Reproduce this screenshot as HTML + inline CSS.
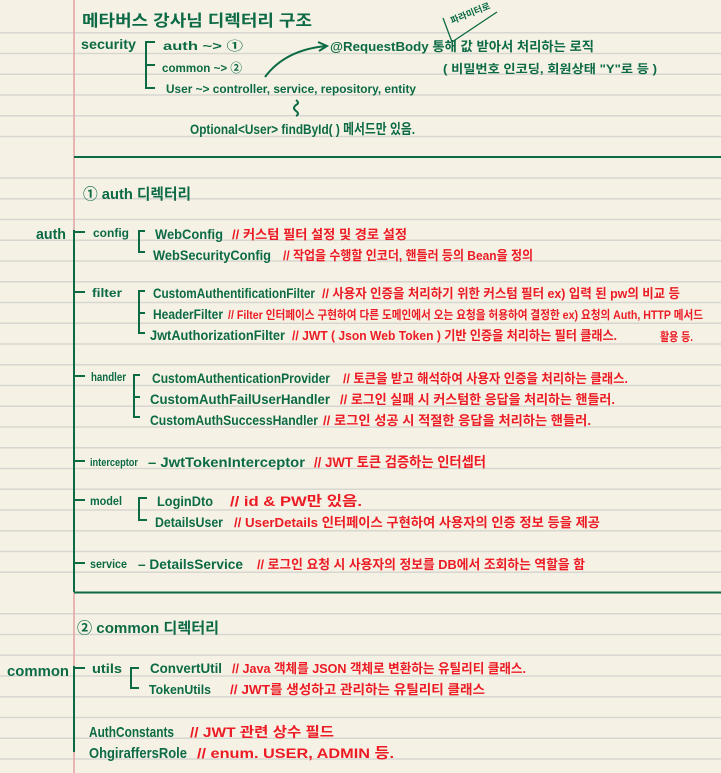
<!DOCTYPE html>
<html><head><meta charset="utf-8"><style>
html,body{margin:0;padding:0;background:#f5f2e5;}
svg{display:block}
text{font-family:"Liberation Sans","Noto Sans CJK KR","NanumGothic",sans-serif;font-weight:bold;}
.g{fill:#0c6a45}.r{fill:#ec1b24}
</style></head><body>
<svg width="721" height="773" viewBox="0 0 721 773" xmlns="http://www.w3.org/2000/svg">
<rect width="721" height="773" fill="#f5f2e5"/>
<g stroke="#d8d6d0" stroke-width="1.5">
<line x1="0" x2="721" y1="32.7" y2="32.7"/><line x1="0" x2="721" y1="53.5" y2="53.5"/><line x1="0" x2="721" y1="74.2" y2="74.2"/><line x1="0" x2="721" y1="95" y2="95"/><line x1="0" x2="721" y1="115.7" y2="115.7"/><line x1="0" x2="721" y1="136.5" y2="136.5"/><line x1="0" x2="721" y1="178" y2="178"/><line x1="0" x2="721" y1="198.7" y2="198.7"/><line x1="0" x2="721" y1="219.5" y2="219.5"/><line x1="0" x2="721" y1="240.2" y2="240.2"/><line x1="0" x2="721" y1="261" y2="261"/><line x1="0" x2="721" y1="281.7" y2="281.7"/><line x1="0" x2="721" y1="302.5" y2="302.5"/><line x1="0" x2="721" y1="323.2" y2="323.2"/><line x1="0" x2="721" y1="344" y2="344"/><line x1="0" x2="721" y1="364.7" y2="364.7"/><line x1="0" x2="721" y1="385.5" y2="385.5"/><line x1="0" x2="721" y1="406.2" y2="406.2"/><line x1="0" x2="721" y1="427" y2="427"/><line x1="0" x2="721" y1="447.7" y2="447.7"/><line x1="0" x2="721" y1="468.5" y2="468.5"/><line x1="0" x2="721" y1="489.2" y2="489.2"/><line x1="0" x2="721" y1="510" y2="510"/><line x1="0" x2="721" y1="530.7" y2="530.7"/><line x1="0" x2="721" y1="551.5" y2="551.5"/><line x1="0" x2="721" y1="572.2" y2="572.2"/><line x1="0" x2="721" y1="613.7" y2="613.7"/><line x1="0" x2="721" y1="634.5" y2="634.5"/><line x1="0" x2="721" y1="655.2" y2="655.2"/><line x1="0" x2="721" y1="676" y2="676"/><line x1="0" x2="721" y1="696.7" y2="696.7"/><line x1="0" x2="721" y1="717.5" y2="717.5"/><line x1="0" x2="721" y1="738.2" y2="738.2"/><line x1="0" x2="721" y1="759" y2="759"/>
</g>
<line x1="74" x2="74" y1="0" y2="773" stroke="#e3a2a2" stroke-width="1.5"/>
<g stroke="#0c6a45" stroke-width="2" fill="none">
<line x1="74" x2="721" y1="157" y2="157"/>
<line x1="74" x2="721" y1="592.5" y2="592.5"/>
<line x1="74" x2="74" y1="230" y2="592"/>
<line x1="74" x2="74" y1="666" y2="752"/>
<path d="M155 42 H146 V88 H155 M146 65 H155"/>
<path d="M265 77 Q285 50 326 46" /><path d="M318 42 L327 46 L319 51"/>
<path d="M296 100 q4 3 0 5 q-4 3 0 6 q4 3 0 5"/>
<path d="M443 18 L452 42 L497 12" stroke-width="1.3"/>
<path d="M74 232 H85 M74 292 H85 M74 376 H85 M74 461 H85 M74 500 H85 M74 563 H85"/>
<path d="M145 231 H139 V252 H145"/>
<path d="M145 291 H139 V333 H145 M139 313 H145"/>
<path d="M140 375 H134 V417 H140 M134 397 H140"/>
<path d="M147 498 H139 V520 H147"/>
<path d="M74 668 H85"/>
<path d="M139 668 H131 V688 H139"/>
</g>
<g class="g">
<text x="82" y="26" font-size="16" textLength="230" lengthAdjust="spacingAndGlyphs">메타버스 강사님 디렉터리 구조</text>
<text x="81" y="49" font-size="14" textLength="55" lengthAdjust="spacingAndGlyphs">security</text>
<text x="163" y="50" font-size="12" textLength="80" lengthAdjust="spacingAndGlyphs">auth ~&gt; ①</text>
<text x="162" y="72" font-size="12" textLength="80" lengthAdjust="spacingAndGlyphs">common ~&gt; ②</text>
<text x="166" y="93" font-size="12" textLength="250" lengthAdjust="spacingAndGlyphs">User ~&gt; controller, service, repository, entity</text>
<text x="330" y="51" font-size="13" textLength="264" lengthAdjust="spacingAndGlyphs">@RequestBody 통해    값 받아서 처리하는 로직</text>
<text x="443" y="73" font-size="12" textLength="214" lengthAdjust="spacingAndGlyphs">( 비밀번호 인코딩,  회원상태 "Y"로 등 )</text>
<text x="452" y="24" font-size="9" transform="rotate(-22 452 24)" textLength="42" lengthAdjust="spacingAndGlyphs">파라미터로</text>
<text x="190" y="134" font-size="14" textLength="225" lengthAdjust="spacingAndGlyphs">Optional&lt;User&gt; findById( ) 메서드만 있음.</text>
<text x="83" y="199" font-size="15" textLength="108" lengthAdjust="spacingAndGlyphs">① auth 디렉터리</text>
<text x="36" y="239" font-size="15" textLength="30" lengthAdjust="spacingAndGlyphs">auth</text>
<text x="93" y="237" font-size="12" textLength="36" lengthAdjust="spacingAndGlyphs">config</text>
<text x="155" y="239" font-size="14" textLength="68" lengthAdjust="spacingAndGlyphs">WebConfig</text>
<text x="153" y="260" font-size="14" textLength="118" lengthAdjust="spacingAndGlyphs">WebSecurityConfig</text>
<text x="92" y="297" font-size="12" textLength="30" lengthAdjust="spacingAndGlyphs">filter</text>
<text x="153" y="298" font-size="14" textLength="162" lengthAdjust="spacingAndGlyphs">CustomAuthentificationFilter</text>
<text x="153" y="319" font-size="14" textLength="70" lengthAdjust="spacingAndGlyphs">HeaderFilter</text>
<text x="150" y="340" font-size="14" textLength="135" lengthAdjust="spacingAndGlyphs">JwtAuthorizationFilter</text>
<text x="91" y="381" font-size="12" textLength="35" lengthAdjust="spacingAndGlyphs">handler</text>
<text x="152" y="383" font-size="14" textLength="178" lengthAdjust="spacingAndGlyphs">CustomAuthenticationProvider</text>
<text x="150" y="404" font-size="14" textLength="180" lengthAdjust="spacingAndGlyphs">CustomAuthFailUserHandler</text>
<text x="150" y="425" font-size="14" textLength="168" lengthAdjust="spacingAndGlyphs">CustomAuthSuccessHandler</text>
<text x="90" y="466" font-size="11" textLength="48" lengthAdjust="spacingAndGlyphs">interceptor</text>
<text x="148" y="467" font-size="14" textLength="157" lengthAdjust="spacingAndGlyphs">– JwtTokenInterceptor</text>
<text x="90" y="505" font-size="12" textLength="32" lengthAdjust="spacingAndGlyphs">model</text>
<text x="157" y="506" font-size="14" textLength="56" lengthAdjust="spacingAndGlyphs">LoginDto</text>
<text x="155" y="527" font-size="14" textLength="68" lengthAdjust="spacingAndGlyphs">DetailsUser</text>
<text x="90" y="568" font-size="12" textLength="37" lengthAdjust="spacingAndGlyphs">service</text>
<text x="138" y="569" font-size="14" textLength="105" lengthAdjust="spacingAndGlyphs">–  DetailsService</text>
<text x="77" y="633" font-size="15" textLength="142" lengthAdjust="spacingAndGlyphs">②  common 디렉터리</text>
<text x="7" y="676" font-size="15" textLength="62" lengthAdjust="spacingAndGlyphs">common</text>
<text x="92" y="673" font-size="13" textLength="30" lengthAdjust="spacingAndGlyphs">utils</text>
<text x="150" y="673" font-size="14" textLength="72" lengthAdjust="spacingAndGlyphs">ConvertUtil</text>
<text x="149" y="694" font-size="13" textLength="62" lengthAdjust="spacingAndGlyphs">TokenUtils</text>
<text x="89" y="737" font-size="15" textLength="85" lengthAdjust="spacingAndGlyphs">AuthConstants</text>
<text x="89" y="758" font-size="15" textLength="98" lengthAdjust="spacingAndGlyphs">OhgiraffersRole</text>
</g>
<g class="r">
<text x="232" y="239" font-size="13" textLength="175" lengthAdjust="spacingAndGlyphs">// 커스텀 필터 설정 및 경로 설정</text>
<text x="283" y="260" font-size="13" textLength="250" lengthAdjust="spacingAndGlyphs">// 작업을 수행할 인코더, 핸들러 등의 Bean을 정의</text>
<text x="322" y="298" font-size="13" textLength="358" lengthAdjust="spacingAndGlyphs">// 사용자 인증을 처리하기 위한 커스텀 필터 ex) 입력 된 pw의 비교 등</text>
<text x="228" y="319" font-size="12" textLength="475" lengthAdjust="spacingAndGlyphs">// Filter 인터페이스 구현하여 다른 도메인에서 오는 요청을 허용하여 결정한 ex) 요청의 Auth, HTTP 메서드</text>
<text x="292" y="340" font-size="13" textLength="325" lengthAdjust="spacingAndGlyphs">// JWT ( Json Web Token ) 기반 인증을 처리하는 필터 클래스.</text>
<text x="660" y="341" font-size="12" textLength="33" lengthAdjust="spacingAndGlyphs">활용 등.</text>
<text x="343" y="383" font-size="13" textLength="285" lengthAdjust="spacingAndGlyphs">// 토큰을 받고 해석하여 사용자 인증을 처리하는 클래스.</text>
<text x="340" y="404" font-size="13" textLength="275" lengthAdjust="spacingAndGlyphs">// 로그인 실패 시 커스텀한 응답을 처리하는 핸들러.</text>
<text x="323" y="425" font-size="13" textLength="268" lengthAdjust="spacingAndGlyphs">// 로그인 성공 시 적절한 응답을 처리하는 핸들러.</text>
<text x="314" y="467" font-size="14" textLength="172" lengthAdjust="spacingAndGlyphs">// JWT 토큰 검증하는 인터셉터</text>
<text x="230" y="506" font-size="14" textLength="132" lengthAdjust="spacingAndGlyphs">// id &amp; PW만  있음.</text>
<text x="234" y="527" font-size="13" textLength="366" lengthAdjust="spacingAndGlyphs">// UserDetails 인터페이스 구현하여 사용자의 인증 정보 등을 제공</text>
<text x="257" y="569" font-size="13" textLength="328" lengthAdjust="spacingAndGlyphs">// 로그인 요청 시 사용자의 정보를 DB에서 조회하는 역할을 함</text>
<text x="232" y="673" font-size="13" textLength="294" lengthAdjust="spacingAndGlyphs">// Java 객체를 JSON 객체로 변환하는 유틸리티 클래스.</text>
<text x="230" y="694" font-size="13" textLength="255" lengthAdjust="spacingAndGlyphs">// JWT를 생성하고 관리하는 유틸리티 클래스</text>
<text x="190" y="737" font-size="14" textLength="144" lengthAdjust="spacingAndGlyphs">// JWT 관련 상수 필드</text>
<text x="197" y="758" font-size="14" textLength="197" lengthAdjust="spacingAndGlyphs">// enum. USER, ADMIN 등.</text>
</g>
</svg>
</body></html>
